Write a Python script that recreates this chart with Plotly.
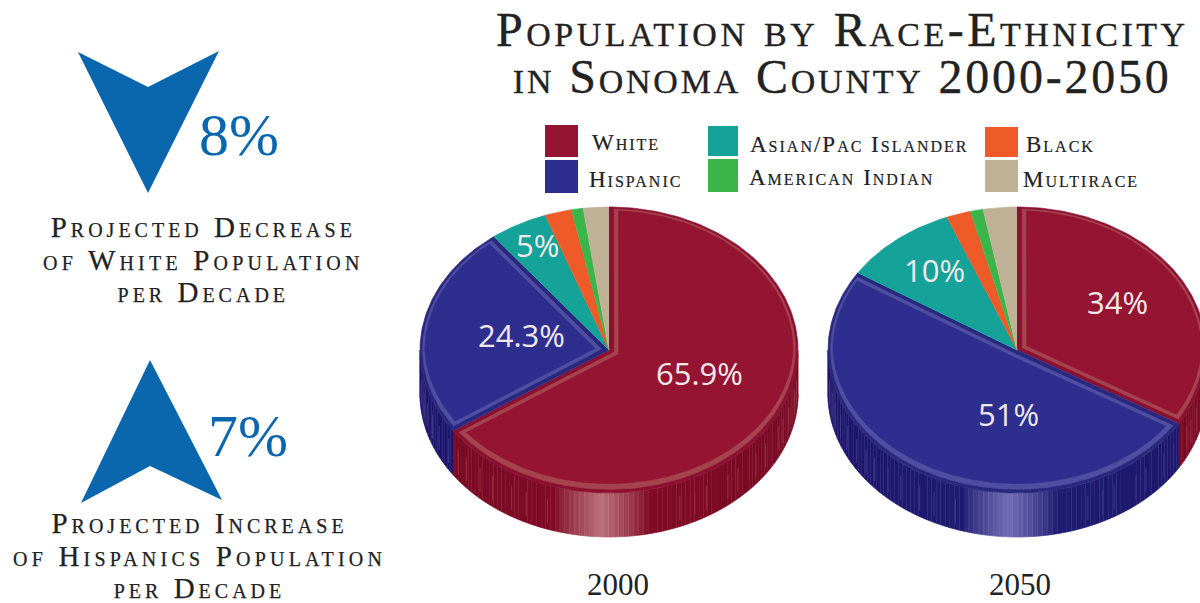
import math
import plotly.graph_objects as go

# ---- data ----
categories = ["White", "Hispanic", "Asian/Pac Islander", "Black", "American Indian", "Multirace"]
values_2000 = [65.9, 24.3, 5.0, 2.3, 1.0, 2.2]
values_2050 = [34.0, 51.0, 10.0, 2.1, 1.1, 2.9]
labels_2000 = ["65.9%", "24.3%", "5%"]
labels_2050 = ["34%", "51%", "10%"]
years = ["2000", "2050"]
title_lines = ["Population by Race-Ethnicity", "in Sonoma County 2000-2050"]
decrease_value = "8%"
increase_value = "7%"
decrease_lines = ["Projected Decrease", "of White Population", "per Decade"]
increase_lines = ["Projected Increase", "of Hispanics Population", "per Decade"]

# ---- styling ----
colors = ["#941432", "#2e2e8e", "#15a298", "#ee5a28", "#39b54a", "#bfb196"]
rim_dark = {0: "#8c1030", 1: "#28287f"}
rim_light = {0: "#a5434f", 1: "#504ea2"}
streak_color = {0: "#98303f", 1: "#3c3a8c"}
wall_base = {0: (130, 11, 38), 1: (32, 29, 116)}
wall_light = {0: (186, 112, 120), 1: (116, 108, 180)}
RX, RY, DEPTH = 189, 143, 44
INK = "#222222"
BLUE = "#0a66ad"
SERIF = "Liberation Serif"
SANS = "Open Sans"
shade_steps = [0, .05, -.04, .02, .07, -.05, 0, .04, -.02, .06, -.06, .01]
streak_angles = [97, 101, 108, 113, 116, 124, 129, 137, 141, 149, 153, 158, 199, 206, 211, 218, 223, 229, 233,
                 238, 244, 249, 254, 258, 263]


def pt(cx, cy, deg, s=1.0, dy=0.0):
    r = math.radians(deg)
    return cx + RX * s * math.sin(r), cy - RY * s * math.cos(r) + dy


def poly(xs, ys, fill, line=None, width=0.7):
    return go.Scatter(x=xs, y=ys, mode="lines", fill="toself", fillcolor=fill,
                      line=dict(color=line or fill, width=width),
                      hoverinfo="skip", showlegend=False)


def blend(a, b, t):
    t = max(0.0, min(1.0, t))
    return tuple(a[i] + (b[i] - a[i]) * t for i in range(3))


def rgb(c):
    return "rgb(%d,%d,%d)" % tuple(c)


def arc(a0, a1, step=1.0):
    n = max(2, int(abs(a1 - a0) / step) + 1)
    return [a0 + (a1 - a0) * i / (n - 1) for i in range(n)]


def inset(cx, cy, a0, a1, d, front):
    """Slice outline moved inward by d; front adds extra width on the near side of the rim."""
    half = (a1 - a0) / 2
    ax, ay = pt(cx, cy, a0 + half, d / math.sin(math.radians(half)))
    pts = [(ax, ay)]
    for a in arc(a0 + math.degrees(d), a1 - math.degrees(d)):
        s = 1 - d * 0.5 - front * max(0.0, -math.cos(math.radians(a)))
        pts.append(pt(cx, cy, a, s))
    pts.append((ax, ay))
    return [p[0] for p in pts], [p[1] for p in pts]


def pie(cx, cy, values):
    total = sum(values)
    edges = [0.0]
    for v in values:
        edges.append(edges[-1] + 360.0 * v / total)
    traces = []
    # side wall, front half only
    for i in range(len(values)):
        lo, hi = max(edges[i], 90), min(edges[i + 1], 270)
        if hi <= lo or i not in wall_base:
            continue
        n = max(1, int((hi - lo) / 1.5))
        for k in range(n):
            a0 = lo + (hi - lo) * k / n
            a1 = lo + (hi - lo) * (k + 1) / n
            mid = pt(cx, cy, (a0 + a1) / 2)[0] - cx
            t = max(0.0, 1 - abs(mid + 8) / 47) ** 0.8
            edge = 1 - min(1.0, abs(mid) / RX)
            base = wall_base[i]
            dark = (base[0] * .9, base[1] * .6, base[2] * .9)
            shade = blend(dark, base, edge ** .5 + shade_steps[k % len(shade_steps)] * 2)
            col = rgb(blend(shade, wall_light[i], t))
            top = [pt(cx, cy, a) for a in arc(a0, a1, .5)]
            bot = [pt(cx, cy, a, dy=DEPTH) for a in arc(a1, a0, .5)]
            traces.append(poly([p[0] for p in top + bot], [p[1] for p in top + bot], col))
        # thin vertical streaks on the wall
        xs, ys = [], []
        for a in streak_angles:
            if lo < a < hi:
                x, y = pt(cx, cy, a)
                xs += [x, x, None]
                ys += [y + DEPTH * .3, y + DEPTH * .85, None]
        traces.append(go.Scatter(x=xs, y=ys, mode="lines", line=dict(color=streak_color[i], width=1),
                                 hoverinfo="skip", showlegend=False))
    # top face
    for i in range(len(values)):
        a0, a1 = edges[i], edges[i + 1]
        fill = rim_dark.get(i, colors[i])
        pts = [(cx, cy)] + [pt(cx, cy, a) for a in arc(a0, a1)]
        traces.append(poly([p[0] for p in pts], [p[1] for p in pts], fill))
    # bevelled rim on the two large slices: light band, then the flat face
    for i in rim_light:
        a0, a1 = edges[i], edges[i + 1]
        xs, ys = inset(cx, cy, a0, a1, 0.028, 0.012)
        traces.append(poly(xs, ys, rim_light[i]))
        xs, ys = inset(cx, cy, a0, a1, 0.052, 0.04)
        traces.append(poly(xs, ys, colors[i]))
    return traces


fig = go.Figure()
for tr in pie(609, 350, values_2000) + pie(1017, 350, values_2050):
    fig.add_trace(tr)


def styled(text, px=None, spacing=0, stroke=0):
    parts = []
    if px:
        parts.append("font-size:%dpx" % px)
    if spacing:
        parts.append("letter-spacing:%.1fpx" % spacing)
    if stroke:
        parts.append("stroke:%s;stroke-width:%.2fpx" % (INK, stroke))
    return '<span style="%s">%s</span>' % (";".join(parts), text)


def note(text, x, y, size, color=INK, family=SERIF, variant="small-caps", anchor="center"):
    return dict(text=text, x=x, y=y, xref="x", yref="y", showarrow=False, xanchor=anchor, yanchor="middle",
                align="center", font=dict(size=size, color=color, family=family, variant=variant))


def block(lines, x, y, size, px, spacings, stroke):
    # the annotation's own size sets the line pitch, the spans set the glyph size
    return note("<br>".join(styled(t, px, s, stroke) for t, s in zip(lines, spacings)), x, y, size)


anns = []
anns.append(block(title_lines, 842, 53, 36, 48, [3.5, 2.8], 0.35))
for txt, x, y in zip(categories, [590, 587, 748, 1024, 747, 1021], [142, 179, 144, 144, 177, 179]):
    anns.append(note(styled(txt, None, 2, 0.2), x, y, 23, anchor="left"))
for lab, x, y in zip(labels_2000, [699, 521, 537], [373, 335, 245]):
    anns.append(note(lab, x, y, 31, "#f1e9e9", SANS, "normal"))
for lab, x, y in zip(labels_2050, [1117, 1008, 934], [302, 414, 270]):
    anns.append(note(lab, x, y, 31, "#f1e9e9", SANS, "normal"))
for yr, x in zip(years, [618, 1020]):
    anns.append(note(yr, x, 584, 31, variant="normal"))
anns.append(note(decrease_value, 239, 135, 60, BLUE, variant="normal"))
anns.append(note(increase_value, 248, 436, 60, BLUE, variant="normal"))
anns.append(block(decrease_lines, 203, 259, 25, 29, [4, 4.2, 4], 0.25))
anns.append(block(increase_lines, 199, 555, 25, 29, [4, 4.2, 4], 0.25))

shapes = [
    dict(type="path", path="M78,52 L148,87 L219,51 L148,193 Z", fillcolor=BLUE, line_width=0, xref="x", yref="y"),
    dict(type="path", path="M150,360 L222,500 L150,466 L81,503 Z", fillcolor=BLUE, line_width=0, xref="x", yref="y"),
]
for i, (x0, x1, y0, y1) in enumerate([(545, 578, 125, 157), (545, 578, 160, 193), (708, 738, 126, 156),
                                      (985, 1018, 127, 157), (708, 738, 159, 192), (985, 1018, 160, 192)]):
    shapes.append(dict(type="rect", x0=x0, x1=x1, y0=y0, y1=y1, fillcolor=colors[i], line_width=0, xref="x", yref="y"))

fig.update_layout(
    width=1200, height=603, margin=dict(l=0, r=0, t=0, b=0),
    paper_bgcolor="white", plot_bgcolor="white", showlegend=False,
    xaxis=dict(range=[0, 1200], visible=False, fixedrange=True),
    yaxis=dict(range=[603, 0], visible=False, fixedrange=True),
    annotations=anns, shapes=shapes,
)
fig.write_html("out.html", post_script="document.body.style.margin='0';", config=dict(displayModeBar=False))
